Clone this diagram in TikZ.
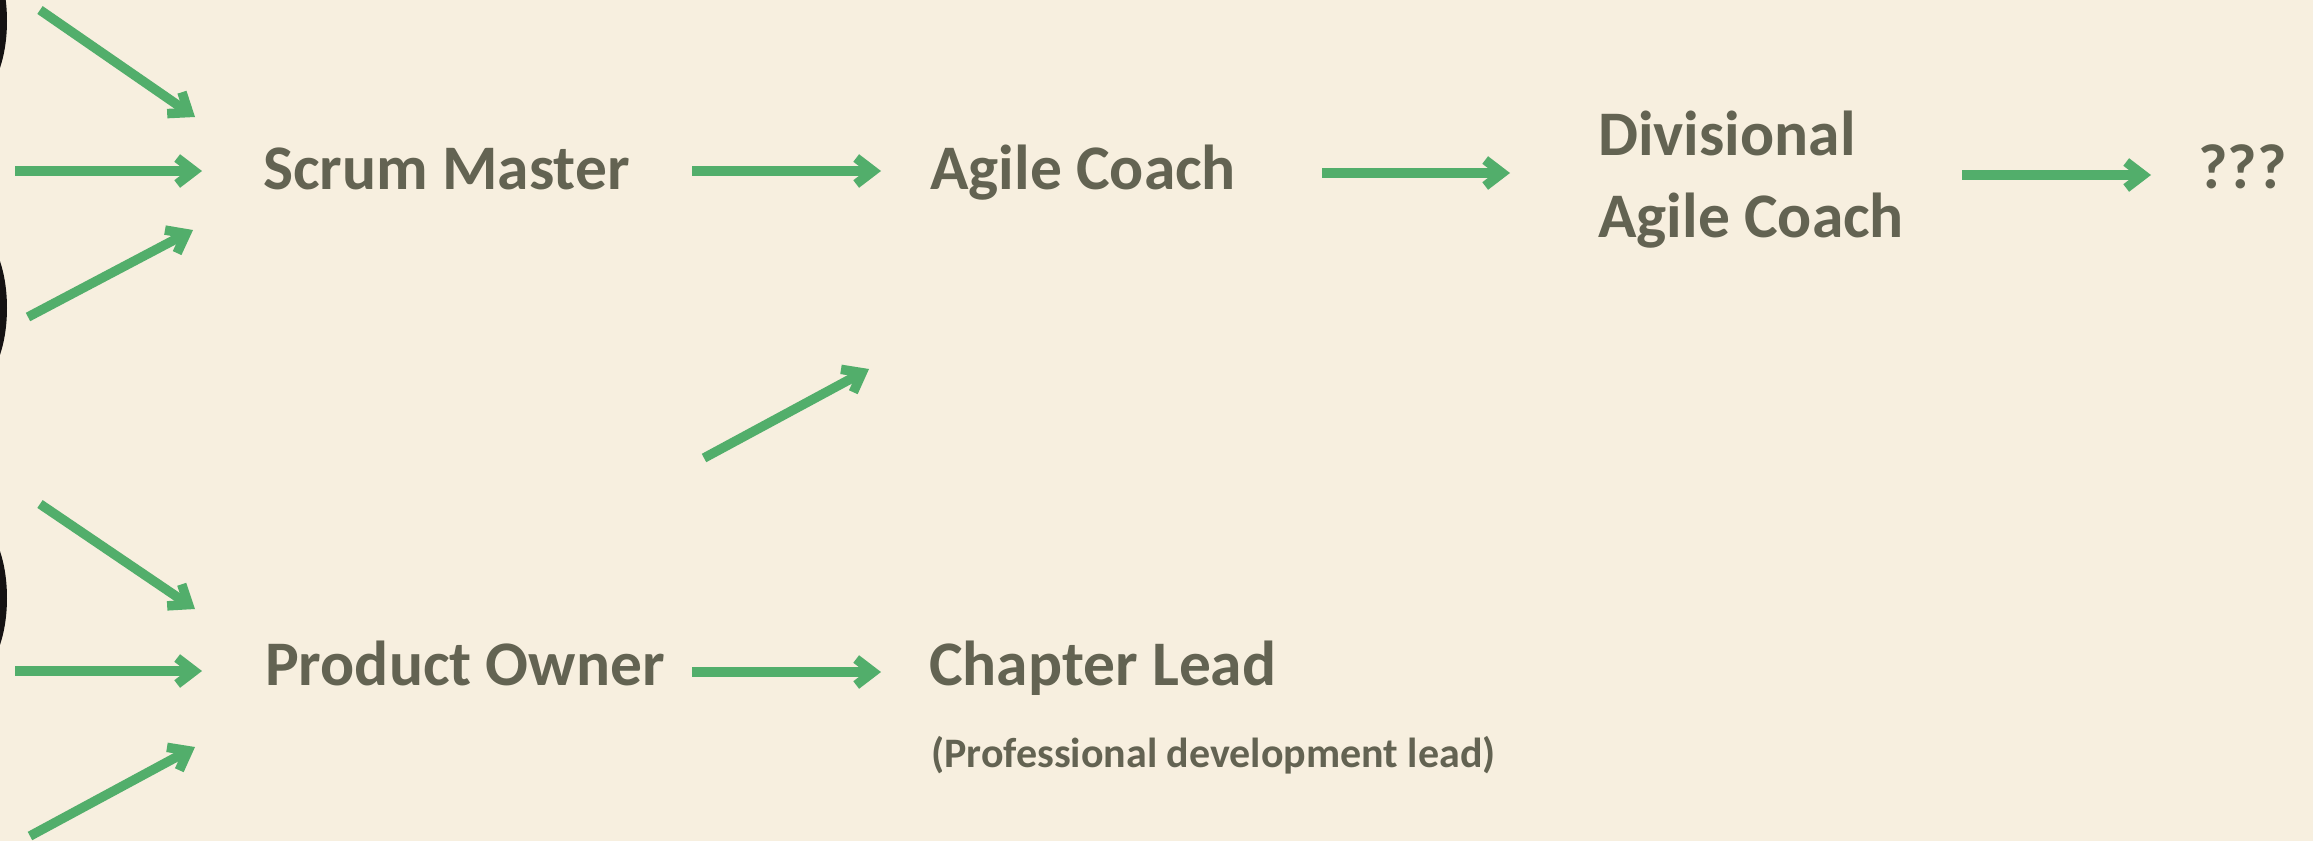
\documentclass[tikz,border=0pt]{standalone}
\usepackage{fontspec}
\setmainfont{Carlito}
\usetikzlibrary{arrows.meta,calc}
\definecolor{paper}{HTML}{F7EFDF}
\definecolor{ink}{HTML}{636352}
\definecolor{leaf}{HTML}{52AE6B}
\definecolor{blot}{HTML}{151212}
\begin{document}
\begin{tikzpicture}[x=1pt,y=-1pt,
  role/.style={inner sep=0pt,anchor=base west,text=ink,font=\fontsize{63.5}{76}\selectfont\bfseries},
  note/.style={inner sep=0pt,anchor=base west,text=ink,font=\fontsize{42}{50}\selectfont\bfseries},
  arr/.style={draw=leaf,line width=9.5pt,-{Straight Barb[length=17pt,width=26pt]}}]
  % page
  \fill[paper] (0,0) rectangle (2313,841);
  \useasboundingbox (0,0) rectangle (2313,841);
  % dark shapes cut by the left edge
  \begin{scope}
    \clip (0,0) rectangle (2313,841);
    \fill[blot] (-28,21) ellipse [x radius=35,y radius=78];
    \fill[blot] (-28,308) ellipse [x radius=35,y radius=78];
    \fill[blot] (-28,598) ellipse [x radius=35,y radius=78];
  \end{scope}
  % roles
  \node[role] (sm) at (263,189) {Scrum Master};
  \node[role] (ac) at (930,189) {Agile Coach};
  \node[role] (div) at (1598,155) {Divisional};
  \node[role] (div2) at (1598,237) {Agile Coach};
  \node[role] (q) at (2198,188) {???};
  \node[role] (po) at (265,685) {Product Owner};
  \node[role] (cl) at (929,685) {Chapter Lead};
  \node[note] (pd) at (931,767) {(Professional development lead)};
  % free ends of the incoming arrows
  \coordinate (s1) at (40,10);   \coordinate (t1) at (195,117);
  \coordinate (s2) at (15,171);  \coordinate (t2) at (202,171);
  \coordinate (s3) at (28,317);  \coordinate (t3) at (193,230);
  \coordinate (s4) at (40,504);  \coordinate (t4) at (195,609);
  \coordinate (s5) at (15,671);  \coordinate (t5) at (202,671);
  \coordinate (s6) at (30,836);  \coordinate (t6) at (195,747);
  \coordinate (s7) at (704,458); \coordinate (t7) at (869,369);
  \foreach \i in {1,...,7}{\draw[arr] (s\i) -- (t\i);}
  % career steps
  \draw[arr] ($(sm.base west)+(429,-18)$) -- ($(ac.base west)+(-49,-18)$);
  \draw[arr] ($(ac.base west)+(392,-16)$) -- ($(div.base west)+(-88,18)$);
  \draw[arr] ($(div.base west)+(364,20)$) -- ($(q.base west)+(-47,-13)$);
  \draw[arr] ($(po.base west)+(427,-13)$) -- ($(cl.base west)+(-48,-13)$);
\end{tikzpicture}
\end{document}
